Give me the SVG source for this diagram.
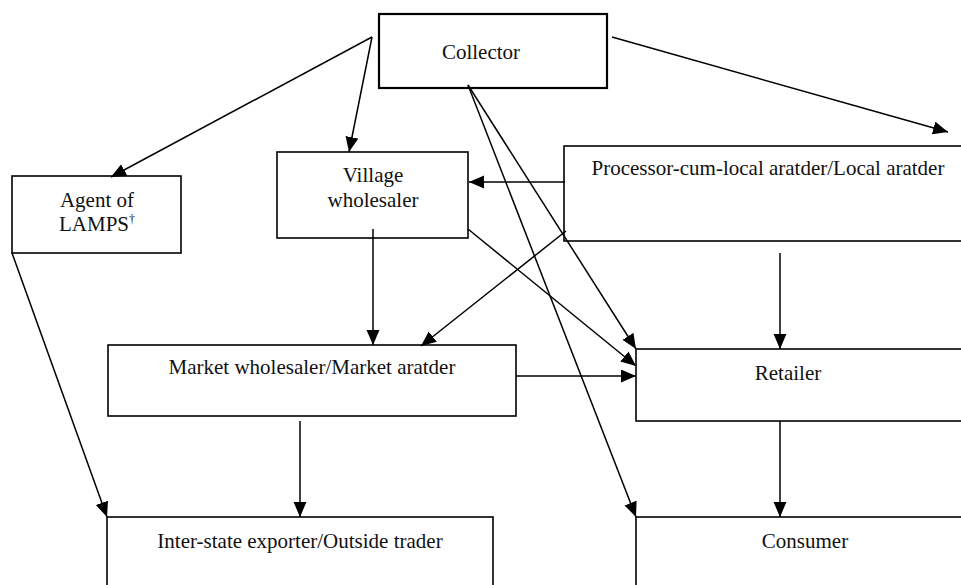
<svg xmlns="http://www.w3.org/2000/svg" width="961" height="585" viewBox="0 0 961 585">
<defs>
<style>
.box{fill:#fff;stroke:#000;stroke-width:1.6}
.thick{stroke-width:2.2}
.lbl{font-family:"Liberation Serif","Times New Roman",serif;font-size:21px;fill:#111;text-anchor:middle}
.sup{font-size:12px}
.con line{stroke:#000;stroke-width:1.5;fill:none;marker-end:url(#ah)}
.con line.plain{marker-end:none}
</style>
<marker id="ah" markerUnits="userSpaceOnUse" markerWidth="16" markerHeight="14" refX="15" refY="6.5" orient="auto">
<path d="M0,0 L15,6.5 L0,13 z" fill="#000"/>
</marker>
</defs>
<rect width="961" height="585" fill="#fff"/>

<g id="collector">
<rect class="box thick" x="379" y="14" width="228" height="74"/>
<text class="lbl" x="481" y="59">Collector</text>
</g>

<g id="agent">
<rect class="box" x="12" y="176" width="169" height="77"/>
<text class="lbl" x="97" y="207">Agent of</text>
<text class="lbl" x="97" y="231">LAMPS<tspan class="sup" dy="-8">†</tspan></text>
</g>

<g id="village">
<rect class="box" x="277" y="152" width="191" height="86"/>
<text class="lbl" x="373" y="182">Village</text>
<text class="lbl" x="373" y="207">wholesaler</text>
</g>

<g id="processor">
<rect class="box" x="564" y="146" width="402" height="95"/>
<text class="lbl" x="768" y="175">Processor-cum-local aratder/Local aratder</text>
</g>

<g id="market">
<rect class="box" x="108" y="345" width="408" height="71"/>
<text class="lbl" x="312" y="374">Market wholesaler/Market aratder</text>
</g>

<g id="retailer">
<rect class="box" x="636" y="349" width="330" height="72"/>
<text class="lbl" x="788" y="380">Retailer</text>
</g>

<g id="interstate">
<rect class="box" x="107" y="517" width="386" height="80"/>
<text class="lbl" x="300" y="548">Inter-state exporter/Outside trader</text>
</g>

<g id="consumer">
<rect class="box" x="636" y="517" width="330" height="80"/>
<text class="lbl" x="805" y="548">Consumer</text>
</g>

<g id="connectors" class="con">
<line x1="372" y1="37" x2="111" y2="177"/>
<line x1="372" y1="37" x2="349" y2="152"/>
<line x1="612" y1="37" x2="948" y2="132"/>
<line x1="468" y1="85" x2="636" y2="349"/>
<line x1="468" y1="85" x2="636" y2="517"/>
<line x1="565" y1="182" x2="469" y2="182"/>
<line x1="373" y1="229" x2="373" y2="345"/>
<line x1="566" y1="231" x2="421" y2="346"/>
<line x1="468" y1="229" x2="636" y2="366"/>
<line x1="516" y1="376" x2="636" y2="376"/>
<line x1="780" y1="253" x2="780" y2="349"/>
<line x1="780" y1="421" x2="780" y2="517"/>
<line x1="300" y1="421" x2="300" y2="517"/>
<line x1="12" y1="253" x2="107" y2="517"/>
</g>
</svg>
